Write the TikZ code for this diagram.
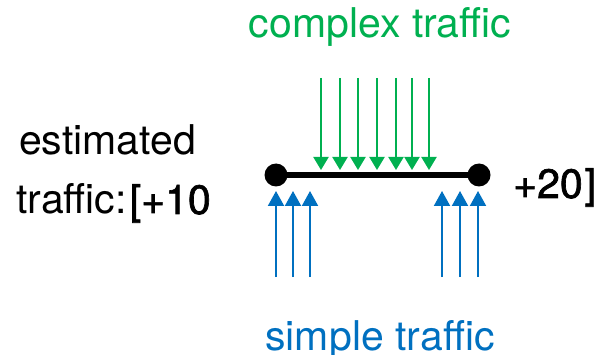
\documentclass[tikz,border=0pt]{standalone}
\usepackage{fontspec}
\setmainfont{TeX Gyre Heros}
\newfontface\midweight{TeX Gyre Heros}[FakeBold=1.6]
\usetikzlibrary{arrows.meta}
\definecolor{cgreen}{RGB}{0,176,80}
\definecolor{sblue}{RGB}{0,112,192}
\tikzset{
  lbl/.style={inner sep=0pt, font=\fontsize{41}{48}\selectfont},
  endpoint/.style={circle, fill=black, minimum size=23pt, inner sep=0pt},
  edgeline/.style={line width=6.5pt},
  cplx/.style={draw=cgreen, line width=2pt, -{Triangle[width=15pt,length=13pt]}, color=cgreen},
  smpl/.style={draw=sblue, line width=2pt, -{Triangle[width=16pt,length=15pt]}, color=sblue}
}
\begin{document}
\begin{tikzpicture}[x=1pt, y=-1pt]
  \useasboundingbox (0,0) rectangle (604,355);

  % the edge and its two end points
  \node[endpoint] (L) at (276,175) {};
  \node[endpoint] (R) at (479,175) {};
  \draw[edgeline] (L.center) -- (R.center);

  % complex traffic arriving from above
  \foreach \x [count=\i] in {321,340,358,377,396,412,429} {
    \coordinate (ct\i) at (\x,78);
    \coordinate (ch\i) at (\x,170);
    \draw[cplx] (ct\i) -- (ch\i);
  }

  % simple traffic arriving from below, near each end point
  \foreach \x [count=\i] in {276,293,310,442,460,478} {
    \coordinate (sb\i) at (\x,277);
    \coordinate (sh\i) at (\x,191);
    \draw[smpl] (sb\i) -- (sh\i);
  }

  % labels
  \node[lbl, text=cgreen, anchor=base] (complex) at (380,38) {complex traffic};
  \node[lbl, text=sblue, anchor=base] (simple) at (380,350) {simple traffic};
  \node[lbl, anchor=base west] (est1) at (19,155) {estimated};
  \node[lbl, anchor=base west] (est2) at (16,214) {traffic:\kern3pt{\midweight[+10}};
  \node[lbl, anchor=base west, font=\fontsize{41}{48}\selectfont\midweight] (est3) at (513,198) {+20\kern2pt]};
\end{tikzpicture}
\end{document}
